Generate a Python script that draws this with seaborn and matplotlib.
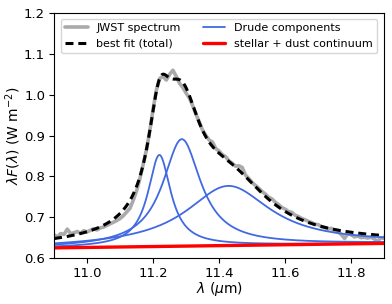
import numpy as np
import pandas as pd
import matplotlib
matplotlib.use("Agg")
import matplotlib.pyplot as plt
import seaborn as sns

# ---- data ----
spec_wave = [round(10.90 + 0.01 * i, 2) for i in range(101)]
spec_flux = [
    0.657, 0.652, 0.660, 0.658, 0.671, 0.660, 0.662, 0.665, 0.661, 0.667,
    0.664, 0.668, 0.672, 0.669, 0.674, 0.676, 0.680, 0.684, 0.688, 0.692,
    0.697, 0.704, 0.713, 0.722, 0.742, 0.765, 0.795, 0.830, 0.866, 0.912,
    0.965, 1.012, 1.040, 1.045, 1.036, 1.050, 1.060, 1.045, 1.028, 1.018,
    1.004, 0.992, 0.973, 0.952, 0.933, 0.913, 0.900, 0.889, 0.884, 0.868,
    0.862, 0.853, 0.848, 0.838, 0.832, 0.825, 0.826, 0.822, 0.803, 0.795,
    0.785, 0.778, 0.771, 0.763, 0.757, 0.749, 0.745, 0.737, 0.731, 0.724,
    0.720, 0.714, 0.712, 0.705, 0.702, 0.697, 0.694, 0.690, 0.687, 0.683,
    0.682, 0.677, 0.675, 0.671, 0.673, 0.666, 0.664, 0.658, 0.648, 0.660,
    0.657, 0.652, 0.654, 0.650, 0.651, 0.649, 0.651, 0.647, 0.641, 0.650,
    0.648,
]

# Drude components (center, peak height above continuum, FWHM) in um
drude_center = [11.219, 11.287, 11.428]
drude_height = [0.224, 0.262, 0.146]
drude_fwhm = [0.084, 0.140, 0.310]

# continuum end points
cont_wave = [10.9, 11.9]
cont_flux = [0.625, 0.636]

x_ticks = [11.0, 11.2, 11.4, 11.6, 11.8]
y_ticks = [0.6, 0.7, 0.8, 0.9, 1.0, 1.1, 1.2]

# ---- model evaluation ----
wl = np.linspace(10.9, 11.9, 801)
cont = np.interp(wl, cont_wave, cont_flux)


def drude(w, c, b, fwhm):
    g = fwhm / c
    return b * g ** 2 / ((w / c - c / w) ** 2 + g ** 2)


comps = [drude(wl, c, b, f) for c, b, f in zip(drude_center, drude_height, drude_fwhm)]
total = cont + np.sum(comps, axis=0)

# ---- plot ----
sns.set_style("ticks", {"axes.edgecolor": "black", "xtick.color": "black",
                        "ytick.color": "black", "axes.labelcolor": "black",
                        "text.color": "black"})
plt.rcParams["font.family"] = ["DejaVu Sans"]

fig = plt.figure(figsize=(3.92, 3.04), dpi=100)
ax = fig.add_axes([0.138, 0.151, 0.842, 0.806])

sns.lineplot(x=spec_wave, y=spec_flux, ax=ax, color="#aaaaaa", lw=2.6,
             label="JWST spectrum", sort=False, estimator=None)
sns.lineplot(x=wl, y=total, ax=ax, color="black", lw=2.2,
             linestyle=(0, (2.6, 1.6)), label="best fit (total)",
             sort=False, estimator=None)
for i, comp in enumerate(comps):
    sns.lineplot(x=wl, y=cont + comp, ax=ax, color="#4169E1", lw=1.3,
                 label="Drude components" if i == 0 else None,
                 sort=False, estimator=None)
sns.lineplot(x=wl, y=cont, ax=ax, color="red", lw=2.4,
             label="stellar + dust continuum", sort=False, estimator=None)

ax.set_xlim(10.9, 11.9)
ax.set_ylim(0.6, 1.2)
ax.set_xticks(x_ticks)
ax.set_yticks(y_ticks)
ax.tick_params(labelsize=9.5, length=3.5, width=0.8, direction="out", pad=3)
for s in ax.spines.values():
    s.set_visible(True)
    s.set_linewidth(0.8)
ax.set_xlabel(r"$\lambda$ ($\mu$m)", fontsize=10, labelpad=0)
ax.set_ylabel(r"$\lambda F(\lambda)$ (W m$^{-2}$)", fontsize=10, labelpad=1)

ax.legend(loc="upper center", ncol=2, fontsize=8, frameon=True,
          handlelength=2.0, columnspacing=2.0, borderaxespad=0.5,
          handletextpad=0.8, labelspacing=0.5)

fig.savefig("out.png", dpi=100)
